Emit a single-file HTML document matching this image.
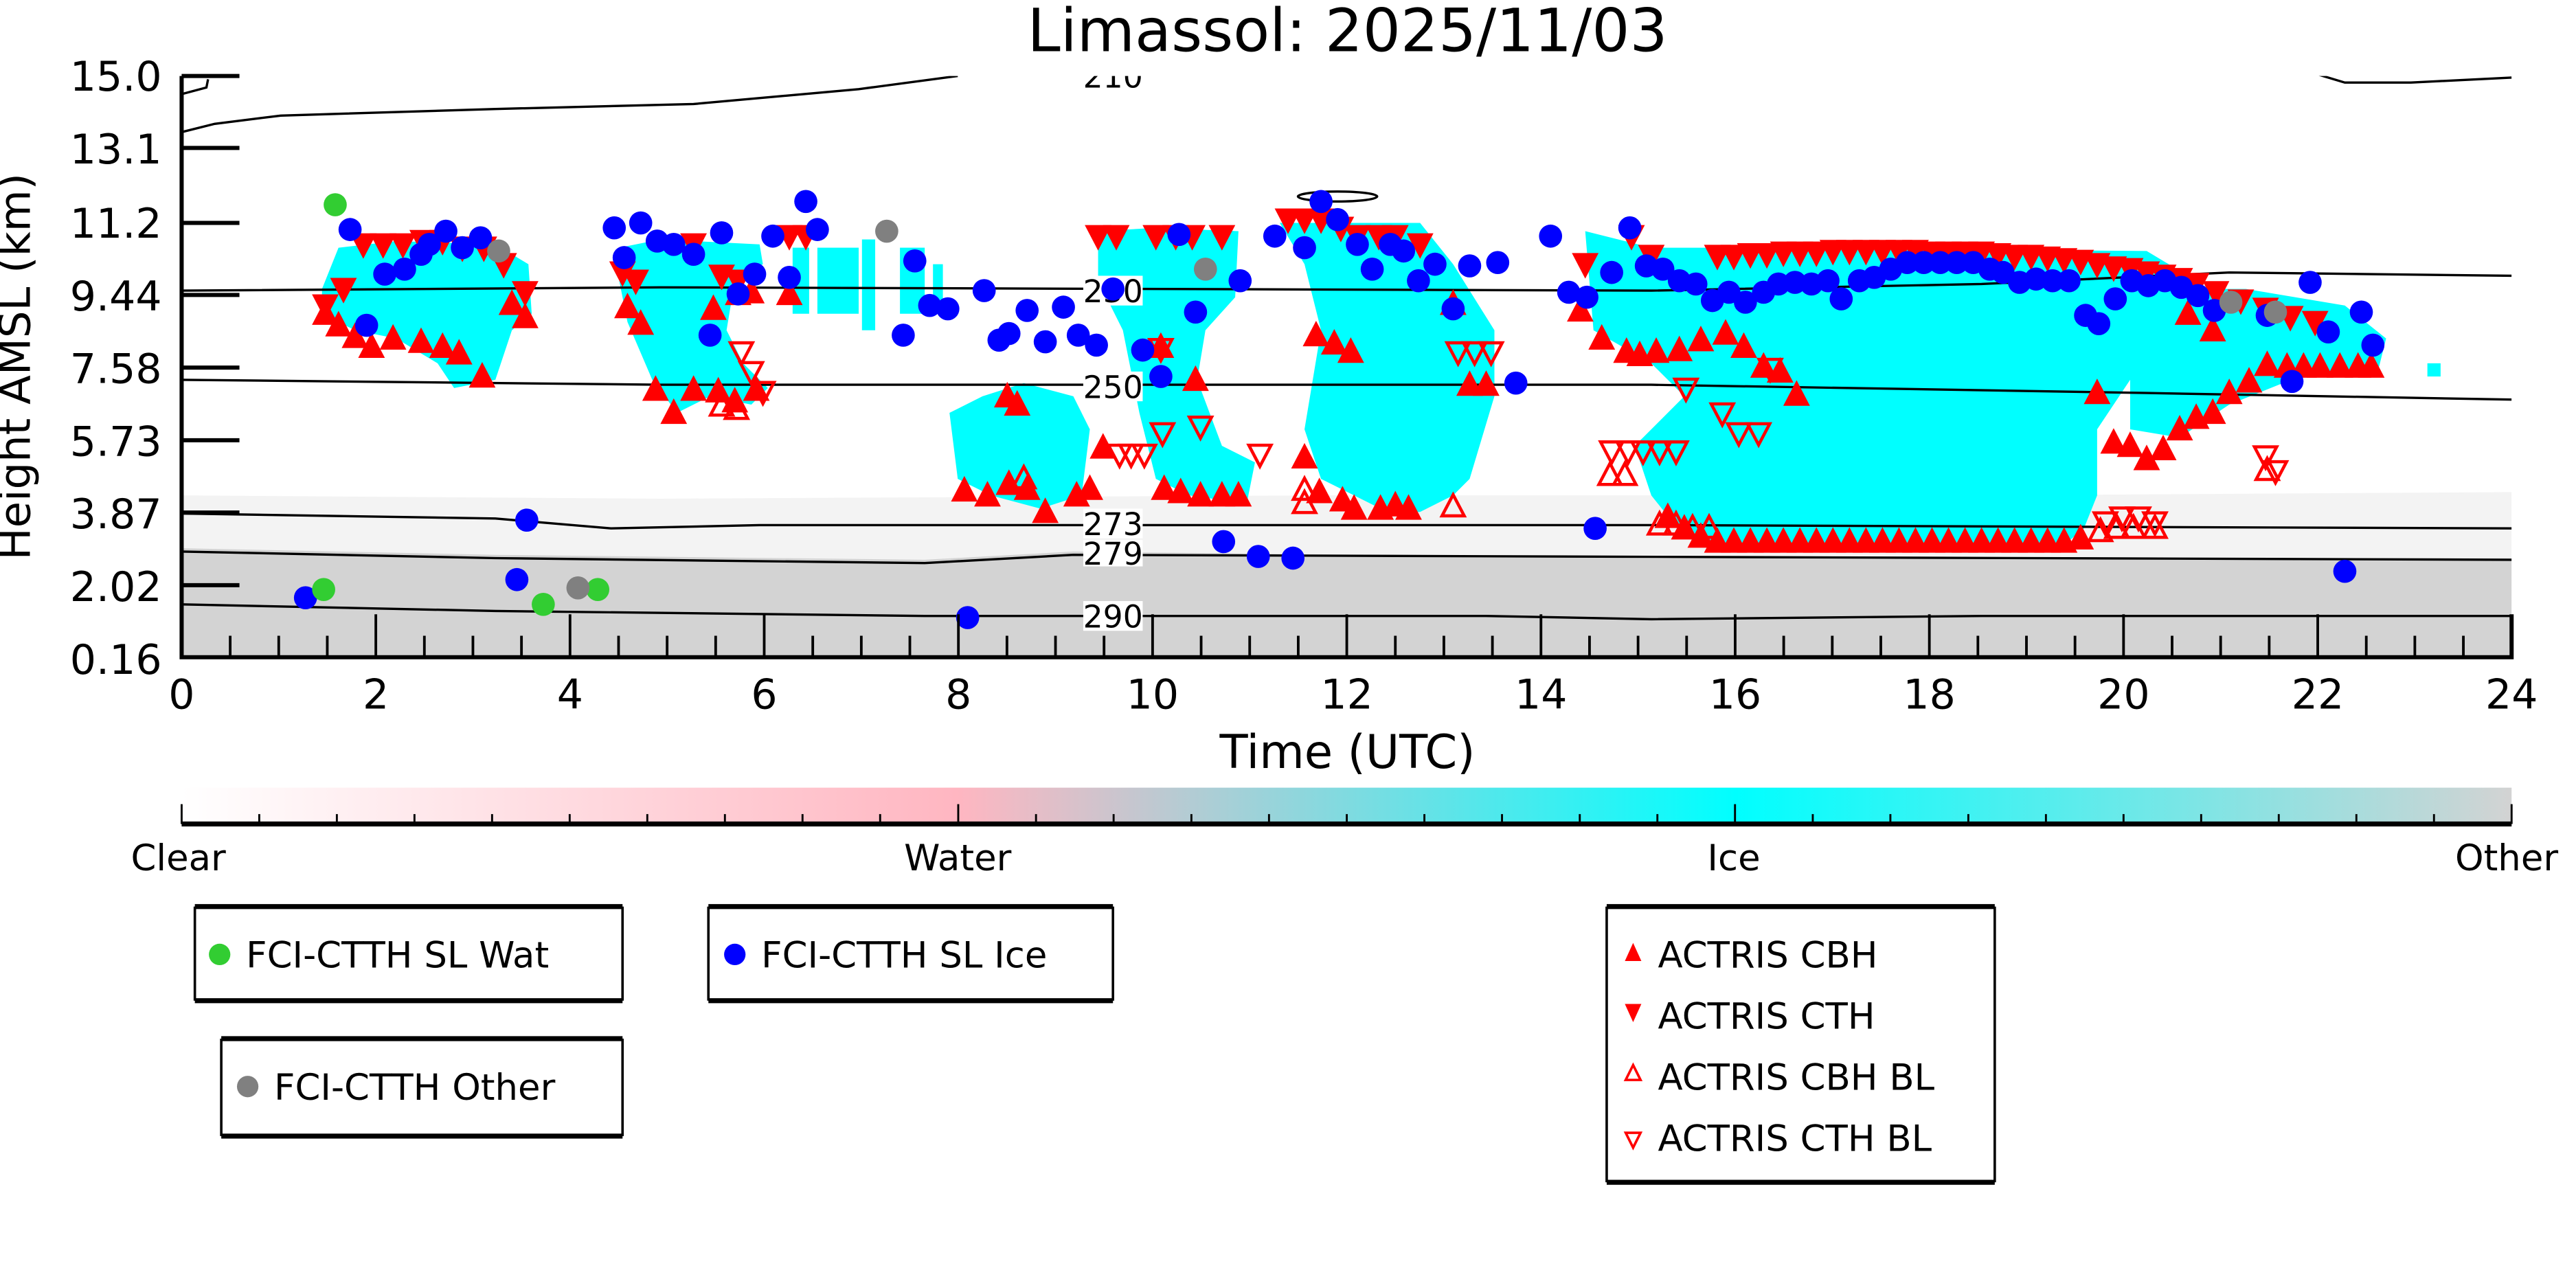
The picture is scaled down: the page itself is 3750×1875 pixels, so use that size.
<!DOCTYPE html>
<html><head><meta charset="utf-8"><style>html,body{margin:0;padding:0;background:#fff}svg{display:block}</style></head><body>
<svg width="3750" height="1875" viewBox="0 0 1560 780" xmlns="http://www.w3.org/2000/svg" font-family="DejaVu Sans, Liberation Sans, sans-serif">
<defs>
<clipPath id="pc"><rect x="110" y="46" width="1411" height="352"/></clipPath>
<linearGradient id="cb" x1="0" x2="1" y1="0" y2="0">
<stop offset="0" stop-color="#ffffff"/><stop offset="0.333" stop-color="#ffb6c1"/><stop offset="0.667" stop-color="#00ffff"/><stop offset="1" stop-color="#d3d3d3"/></linearGradient>
<symbol id="u" viewBox="-5.2 -5.2 10.4 10.4" overflow="visible"><polygon points="0,-6.5 6,5 -6,5" fill="#f00"/></symbol>
<symbol id="d" viewBox="-5.2 -5.2 10.4 10.4" overflow="visible"><polygon points="0,6.5 6,-5 -6,-5" fill="#f00"/></symbol>
<symbol id="uo" viewBox="-5.2 -5.2 10.4 10.4" overflow="visible"><polygon points="0,-5.5 5,4 -5,4" fill="none" stroke="#f00" stroke-width="1.4"/></symbol>
<symbol id="do" viewBox="-5.2 -5.2 10.4 10.4" overflow="visible"><polygon points="0,5.5 5,-4 -5,-4" fill="none" stroke="#f00" stroke-width="1.4"/></symbol>
</defs>
<text x="816" y="31" font-size="36" text-anchor="middle">Limassol: 2025/11/03</text>
<g clip-path="url(#pc)">
<path d="M110,300 L400,302 L800,300 L1200,300 L1521,298 L1521,398 L110,398Z" fill="#f3f3f3"/>
<path d="M110,332 L300,336 L560,339 L650,334 L1000,338 L1521,338 L1521,398 L110,398Z" fill="#d3d3d3"/>
<g fill="#00ffff">
<polygon points="195,175 205,150 240,146 300,148 320,160 322,190 310,200 300,230 275,235 265,220 240,205 215,200 195,190"/>
<polygon points="375,150 400,145 460,148 462,160 445,170 440,200 450,220 465,235 455,245 430,240 410,250 395,230 380,195 375,170"/>
<rect x="495" y="150" width="25" height="40"/><rect x="522" y="145" width="8" height="55"/><rect x="545" y="150" width="15" height="40"/><rect x="565" y="160" width="6" height="30"/><rect x="480" y="150" width="10" height="40"/>
<polygon points="575,250 595,240 620,232 650,240 660,260 655,300 630,308 600,300 580,290"/>
<polygon points="665,140 700,138 750,140 748,180 730,200 725,230 740,270 760,280 755,305 720,300 700,290 690,250 680,200 665,170"/>
<polygon points="775,135 860,135 880,160 905,200 905,240 890,290 880,300 860,310 840,310 820,300 800,290 790,260 800,200 790,160"/>
<polygon points="960,140 1000,150 1060,150 1300,152 1330,170 1300,200 1290,230 1270,260 1270,300 1262,320 1250,330 1050,330 1020,325 1000,300 990,270 1020,240 1000,220 965,200"/>
<polygon points="1300,175 1360,175 1420,185 1445,205 1440,225 1400,225 1350,245 1320,265 1290,260 1290,220"/>
<rect x="1470" y="220" width="8" height="8"/>
</g>
<g fill="none" stroke="#000" stroke-width="1.4">
<path d="M110,80 L130,75 L170,70 L300,66 L420,63 L520,54 L580,46 M700,44 L1400,44 L1420,50 L1460,50 L1521,47"/>
<path d="M110,57 L125,53 L126,48"/>
<path d="M110,176 L400,174 L1000,176 L1200,172 L1350,165 L1521,167"/>
<path d="M110,230 L400,233 L1000,233 L1300,238 L1521,242"/>
<path d="M110,311 L300,314 L370,320 L460,318 L1000,318 L1521,320"/>
<path d="M110,334 L300,338 L560,341 L650,336 L1521,339"/>
<path d="M110,366 L300,370 L560,373 L900,373 L1000,375 L1200,373 L1521,373"/>
<ellipse cx="810" cy="119" rx="24" ry="3"/>
</g>
<g font-size="19" text-anchor="middle">
<rect x="656" y="37" width="36" height="16" fill="#fff"/><text x="674" y="53">210</text>
<rect x="656" y="167" width="36" height="18" fill="#fff"/><text x="674" y="183">230</text>
<rect x="656" y="225" width="36" height="18" fill="#fff"/><text x="674" y="241">250</text>
<rect x="656" y="308" width="36" height="18" fill="#fff"/><text x="674" y="324">273</text>
<rect x="656" y="327" width="36" height="16" fill="#fff"/><text x="674" y="342">279</text>
<rect x="656" y="364" width="36" height="18" fill="#fff"/><text x="674" y="380">290</text>
</g>
<g>
<use href="#d" x="190" y="178" width="14" height="14"/><use href="#d" x="201" y="168" width="14" height="14"/><use href="#d" x="213" y="141" width="14" height="14"/><use href="#d" x="225" y="141" width="14" height="14"/><use href="#d" x="237" y="141" width="14" height="14"/><use href="#d" x="249" y="139" width="14" height="14"/><use href="#d" x="261" y="139" width="14" height="14"/><use href="#d" x="273" y="143" width="14" height="14"/><use href="#d" x="286" y="143" width="14" height="14"/><use href="#d" x="298" y="153" width="14" height="14"/><use href="#d" x="311" y="170" width="14" height="14"/>
<use href="#d" x="370" y="158" width="14" height="14"/><use href="#d" x="378" y="163" width="14" height="14"/><use href="#d" x="413" y="141" width="14" height="14"/><use href="#d" x="430" y="160" width="14" height="14"/><use href="#d" x="440" y="163" width="14" height="14"/><use href="#d" x="471" y="136" width="14" height="14"/><use href="#d" x="481" y="136" width="14" height="14"/>
<use href="#d" x="658" y="136" width="14" height="14"/><use href="#d" x="669" y="136" width="14" height="14"/><use href="#d" x="693" y="136" width="14" height="14"/><use href="#d" x="705" y="136" width="14" height="14"/><use href="#d" x="715" y="136" width="14" height="14"/><use href="#d" x="733" y="136" width="14" height="14"/>
<use href="#d" x="773" y="126" width="14" height="14"/><use href="#d" x="783" y="126" width="14" height="14"/><use href="#d" x="793" y="126" width="14" height="14"/><use href="#d" x="805" y="131" width="14" height="14"/><use href="#d" x="815" y="136" width="14" height="14"/><use href="#d" x="828" y="136" width="14" height="14"/><use href="#d" x="838" y="136" width="14" height="14"/><use href="#d" x="853" y="141" width="14" height="14"/>
<use href="#d" x="953" y="153" width="14" height="14"/><use href="#d" x="981" y="136" width="14" height="14"/><use href="#d" x="993" y="148" width="14" height="14"/>
<use href="#d" x="1033" y="148" width="14" height="14"/><use href="#d" x="1043" y="148" width="14" height="14"/><use href="#d" x="1053" y="147" width="14" height="14"/><use href="#d" x="1063" y="147" width="14" height="14"/><use href="#d" x="1073" y="146" width="14" height="14"/><use href="#d" x="1083" y="146" width="14" height="14"/><use href="#d" x="1093" y="146" width="14" height="14"/><use href="#d" x="1103" y="145" width="14" height="14"/><use href="#d" x="1113" y="145" width="14" height="14"/><use href="#d" x="1123" y="145" width="14" height="14"/><use href="#d" x="1133" y="145" width="14" height="14"/><use href="#d" x="1143" y="145" width="14" height="14"/><use href="#d" x="1153" y="145" width="14" height="14"/><use href="#d" x="1163" y="146" width="14" height="14"/><use href="#d" x="1173" y="146" width="14" height="14"/><use href="#d" x="1183" y="146" width="14" height="14"/><use href="#d" x="1193" y="146" width="14" height="14"/><use href="#d" x="1203" y="147" width="14" height="14"/><use href="#d" x="1213" y="148" width="14" height="14"/><use href="#d" x="1223" y="148" width="14" height="14"/><use href="#d" x="1233" y="149" width="14" height="14"/><use href="#d" x="1243" y="150" width="14" height="14"/><use href="#d" x="1253" y="151" width="14" height="14"/><use href="#d" x="1263" y="153" width="14" height="14"/><use href="#d" x="1273" y="155" width="14" height="14"/><use href="#d" x="1283" y="156" width="14" height="14"/><use href="#d" x="1293" y="158" width="14" height="14"/><use href="#d" x="1303" y="160" width="14" height="14"/><use href="#d" x="1313" y="162" width="14" height="14"/><use href="#d" x="1323" y="165" width="14" height="14"/><use href="#d" x="1335" y="170" width="14" height="14"/><use href="#d" x="1350" y="175" width="14" height="14"/><use href="#d" x="1365" y="180" width="14" height="14"/><use href="#d" x="1380" y="185" width="14" height="14"/><use href="#d" x="1395" y="188" width="14" height="14"/>
<use href="#do" x="442" y="206" width="14" height="14"/><use href="#do" x="448" y="218" width="14" height="14"/><use href="#do" x="455" y="230" width="14" height="14"/><use href="#do" x="696" y="204" width="14" height="14"/><use href="#do" x="671" y="268" width="14" height="14"/><use href="#do" x="678" y="268" width="14" height="14"/><use href="#do" x="686" y="268" width="14" height="14"/><use href="#do" x="697" y="255" width="14" height="14"/><use href="#do" x="720" y="251" width="14" height="14"/><use href="#do" x="756" y="268" width="14" height="14"/><use href="#do" x="876" y="206" width="14" height="14"/><use href="#do" x="886" y="206" width="14" height="14"/><use href="#do" x="896" y="206" width="14" height="14"/><use href="#do" x="1014" y="228" width="14" height="14"/><use href="#do" x="1036" y="243" width="14" height="14"/><use href="#do" x="1046" y="255" width="14" height="14"/><use href="#do" x="1058" y="255" width="14" height="14"/><use href="#do" x="969" y="266" width="14" height="14"/><use href="#do" x="979" y="266" width="14" height="14"/><use href="#do" x="988" y="266" width="14" height="14"/><use href="#do" x="998" y="266" width="14" height="14"/><use href="#do" x="1008" y="266" width="14" height="14"/><use href="#do" x="1065" y="216" width="14" height="14"/><use href="#do" x="1268" y="309" width="14" height="14"/><use href="#do" x="1278" y="306" width="14" height="14"/><use href="#do" x="1288" y="306" width="14" height="14"/><use href="#do" x="1298" y="309" width="14" height="14"/><use href="#do" x="1365" y="269" width="14" height="14"/><use href="#do" x="1371" y="278" width="14" height="14"/>
<use href="#u" x="190" y="183" width="14" height="14"/><use href="#u" x="198" y="190" width="14" height="14"/><use href="#u" x="208" y="197" width="14" height="14"/><use href="#u" x="218" y="203" width="14" height="14"/><use href="#u" x="231" y="198" width="14" height="14"/><use href="#u" x="248" y="200" width="14" height="14"/><use href="#u" x="261" y="203" width="14" height="14"/><use href="#u" x="271" y="207" width="14" height="14"/><use href="#u" x="285" y="221" width="14" height="14"/><use href="#u" x="311" y="185" width="14" height="14"/><use href="#u" x="303" y="177" width="14" height="14"/>
<use href="#u" x="390" y="229" width="14" height="14"/><use href="#u" x="401" y="243" width="14" height="14"/><use href="#u" x="413" y="229" width="14" height="14"/><use href="#u" x="428" y="230" width="14" height="14"/><use href="#u" x="438" y="236" width="14" height="14"/><use href="#u" x="451" y="229" width="14" height="14"/><use href="#u" x="373" y="179" width="14" height="14"/><use href="#u" x="381" y="189" width="14" height="14"/><use href="#u" x="425" y="180" width="14" height="14"/><use href="#u" x="440" y="171" width="14" height="14"/><use href="#u" x="448" y="170" width="14" height="14"/><use href="#u" x="471" y="171" width="14" height="14"/>
<use href="#u" x="577" y="290" width="14" height="14"/><use href="#u" x="591" y="293" width="14" height="14"/><use href="#u" x="604" y="286" width="14" height="14"/><use href="#u" x="615" y="289" width="14" height="14"/><use href="#u" x="626" y="303" width="14" height="14"/><use href="#u" x="609" y="238" width="14" height="14"/><use href="#u" x="603" y="233" width="14" height="14"/><use href="#u" x="661" y="264" width="14" height="14"/><use href="#u" x="645" y="293" width="14" height="14"/><use href="#u" x="653" y="289" width="14" height="14"/><use href="#u" x="698" y="289" width="14" height="14"/><use href="#u" x="708" y="291" width="14" height="14"/><use href="#u" x="720" y="293" width="14" height="14"/><use href="#u" x="733" y="293" width="14" height="14"/><use href="#u" x="743" y="293" width="14" height="14"/><use href="#u" x="696" y="203" width="14" height="14"/><use href="#u" x="717" y="223" width="14" height="14"/>
<use href="#u" x="790" y="196" width="14" height="14"/><use href="#u" x="801" y="201" width="14" height="14"/><use href="#u" x="811" y="206" width="14" height="14"/><use href="#u" x="783" y="270" width="14" height="14"/><use href="#u" x="792" y="291" width="14" height="14"/><use href="#u" x="806" y="296" width="14" height="14"/><use href="#u" x="813" y="301" width="14" height="14"/><use href="#u" x="829" y="301" width="14" height="14"/><use href="#u" x="838" y="299" width="14" height="14"/><use href="#u" x="846" y="301" width="14" height="14"/><use href="#u" x="873" y="177" width="14" height="14"/><use href="#u" x="883" y="226" width="14" height="14"/><use href="#u" x="893" y="226" width="14" height="14"/>
<use href="#u" x="950" y="181" width="14" height="14"/><use href="#u" x="963" y="198" width="14" height="14"/><use href="#u" x="978" y="206" width="14" height="14"/><use href="#u" x="986" y="208" width="14" height="14"/><use href="#u" x="996" y="206" width="14" height="14"/><use href="#u" x="1010" y="205" width="14" height="14"/><use href="#u" x="1023" y="199" width="14" height="14"/><use href="#u" x="1038" y="195" width="14" height="14"/><use href="#u" x="1049" y="203" width="14" height="14"/><use href="#u" x="1061" y="215" width="14" height="14"/><use href="#u" x="1071" y="218" width="14" height="14"/><use href="#u" x="1081" y="232" width="14" height="14"/><use href="#u" x="1003" y="306" width="14" height="14"/><use href="#u" x="1013" y="313" width="14" height="14"/><use href="#u" x="1023" y="318" width="14" height="14"/>
<use href="#u" x="1033" y="321" width="14" height="14"/><use href="#u" x="1043" y="321" width="14" height="14"/><use href="#u" x="1053" y="321" width="14" height="14"/><use href="#u" x="1063" y="321" width="14" height="14"/><use href="#u" x="1073" y="321" width="14" height="14"/><use href="#u" x="1083" y="321" width="14" height="14"/><use href="#u" x="1093" y="321" width="14" height="14"/><use href="#u" x="1103" y="321" width="14" height="14"/><use href="#u" x="1113" y="321" width="14" height="14"/><use href="#u" x="1123" y="321" width="14" height="14"/><use href="#u" x="1133" y="321" width="14" height="14"/><use href="#u" x="1143" y="321" width="14" height="14"/><use href="#u" x="1153" y="321" width="14" height="14"/><use href="#u" x="1163" y="321" width="14" height="14"/><use href="#u" x="1173" y="321" width="14" height="14"/><use href="#u" x="1183" y="321" width="14" height="14"/><use href="#u" x="1193" y="321" width="14" height="14"/><use href="#u" x="1203" y="321" width="14" height="14"/><use href="#u" x="1213" y="321" width="14" height="14"/><use href="#u" x="1223" y="321" width="14" height="14"/><use href="#u" x="1233" y="321" width="14" height="14"/><use href="#u" x="1243" y="321" width="14" height="14"/><use href="#u" x="1253" y="319" width="14" height="14"/>
<use href="#u" x="1263" y="231" width="14" height="14"/><use href="#u" x="1273" y="261" width="14" height="14"/><use href="#u" x="1283" y="263" width="14" height="14"/><use href="#u" x="1293" y="271" width="14" height="14"/><use href="#u" x="1303" y="265" width="14" height="14"/><use href="#u" x="1313" y="253" width="14" height="14"/><use href="#u" x="1323" y="246" width="14" height="14"/><use href="#u" x="1333" y="243" width="14" height="14"/><use href="#u" x="1343" y="231" width="14" height="14"/><use href="#u" x="1355" y="224" width="14" height="14"/><use href="#u" x="1366" y="214" width="14" height="14"/><use href="#u" x="1378" y="215" width="14" height="14"/><use href="#u" x="1388" y="215" width="14" height="14"/><use href="#u" x="1398" y="215" width="14" height="14"/><use href="#u" x="1410" y="215" width="14" height="14"/><use href="#u" x="1421" y="215" width="14" height="14"/><use href="#u" x="1429" y="215" width="14" height="14"/><use href="#u" x="1318" y="183" width="14" height="14"/><use href="#u" x="1333" y="193" width="14" height="14"/>
<use href="#uo" x="430" y="239" width="14" height="14"/><use href="#uo" x="439" y="241" width="14" height="14"/><use href="#uo" x="613" y="283" width="14" height="14"/><use href="#uo" x="968" y="281" width="14" height="14"/><use href="#uo" x="977" y="281" width="14" height="14"/><use href="#uo" x="998" y="311" width="14" height="14"/><use href="#uo" x="1008" y="311" width="14" height="14"/><use href="#uo" x="1018" y="313" width="14" height="14"/><use href="#uo" x="1028" y="313" width="14" height="14"/><use href="#uo" x="1265" y="315" width="14" height="14"/><use href="#uo" x="1275" y="313" width="14" height="14"/><use href="#uo" x="1285" y="313" width="14" height="14"/><use href="#uo" x="1298" y="313" width="14" height="14"/><use href="#uo" x="1366" y="278" width="14" height="14"/><use href="#uo" x="783" y="290" width="14" height="14"/><use href="#uo" x="873" y="300" width="14" height="14"/><use href="#uo" x="783" y="298" width="14" height="14"/>
</g>
<g fill="#0000ff">
<circle cx="212" cy="139" r="7"/><circle cx="185" cy="362" r="7"/><circle cx="233" cy="166" r="7"/><circle cx="245" cy="163" r="7"/><circle cx="222" cy="197" r="7"/><circle cx="260" cy="148" r="7"/><circle cx="270" cy="140" r="7"/><circle cx="255" cy="154" r="7"/><circle cx="280" cy="150" r="7"/><circle cx="291" cy="144" r="7"/><circle cx="319" cy="315" r="7"/><circle cx="313" cy="351" r="7"/>
<circle cx="372" cy="138" r="7"/><circle cx="388" cy="135" r="7"/><circle cx="378" cy="156" r="7"/><circle cx="398" cy="146" r="7"/><circle cx="408" cy="148" r="7"/><circle cx="420" cy="154" r="7"/><circle cx="430" cy="203" r="7"/><circle cx="437" cy="141" r="7"/><circle cx="447" cy="178" r="7"/><circle cx="457" cy="166" r="7"/><circle cx="468" cy="143" r="7"/><circle cx="478" cy="168" r="7"/><circle cx="488" cy="122" r="7"/><circle cx="495" cy="139" r="7"/>
<circle cx="554" cy="158" r="7"/><circle cx="547" cy="203" r="7"/><circle cx="563" cy="185" r="7"/><circle cx="574" cy="187" r="7"/><circle cx="586" cy="374" r="7"/><circle cx="596" cy="176" r="7"/><circle cx="605" cy="206" r="7"/><circle cx="611" cy="202" r="7"/><circle cx="622" cy="188" r="7"/><circle cx="633" cy="207" r="7"/><circle cx="644" cy="186" r="7"/><circle cx="653" cy="203" r="7"/><circle cx="664" cy="209" r="7"/><circle cx="674" cy="175" r="7"/><circle cx="692" cy="212" r="7"/><circle cx="703" cy="228" r="7"/><circle cx="714" cy="142" r="7"/><circle cx="724" cy="189" r="7"/><circle cx="741" cy="328" r="7"/><circle cx="751" cy="170" r="7"/><circle cx="762" cy="337" r="7"/><circle cx="783" cy="338" r="7"/><circle cx="772" cy="143" r="7"/><circle cx="790" cy="150" r="7"/><circle cx="800" cy="122" r="7"/><circle cx="810" cy="133" r="7"/><circle cx="822" cy="148" r="7"/><circle cx="831" cy="163" r="7"/><circle cx="842" cy="148" r="7"/><circle cx="850" cy="152" r="7"/><circle cx="859" cy="170" r="7"/><circle cx="869" cy="160" r="7"/><circle cx="880" cy="187" r="7"/><circle cx="890" cy="161" r="7"/><circle cx="907" cy="159" r="7"/><circle cx="918" cy="232" r="7"/><circle cx="939" cy="143" r="7"/><circle cx="950" cy="177" r="7"/><circle cx="961" cy="180" r="7"/><circle cx="966" cy="320" r="7"/><circle cx="976" cy="165" r="7"/><circle cx="987" cy="138" r="7"/><circle cx="997" cy="161" r="7"/><circle cx="1007" cy="163" r="7"/><circle cx="1017" cy="170" r="7"/><circle cx="1027" cy="172" r="7"/><circle cx="1037" cy="182" r="7"/><circle cx="1047" cy="177" r="7"/><circle cx="1057" cy="183" r="7"/><circle cx="1068" cy="177" r="7"/><circle cx="1077" cy="172" r="7"/><circle cx="1087" cy="171" r="7"/><circle cx="1097" cy="172" r="7"/><circle cx="1107" cy="170" r="7"/><circle cx="1115" cy="181" r="7"/><circle cx="1126" cy="170" r="7"/><circle cx="1135" cy="168" r="7"/><circle cx="1145" cy="163" r="7"/><circle cx="1155" cy="159" r="7"/><circle cx="1165" cy="159" r="7"/><circle cx="1175" cy="159" r="7"/><circle cx="1185" cy="159" r="7"/><circle cx="1195" cy="159" r="7"/><circle cx="1205" cy="163" r="7"/><circle cx="1213" cy="165" r="7"/><circle cx="1223" cy="171" r="7"/><circle cx="1233" cy="169" r="7"/><circle cx="1243" cy="170" r="7"/><circle cx="1253" cy="170" r="7"/><circle cx="1263" cy="191" r="7"/><circle cx="1271" cy="196" r="7"/><circle cx="1281" cy="181" r="7"/><circle cx="1291" cy="170" r="7"/><circle cx="1301" cy="173" r="7"/><circle cx="1311" cy="170" r="7"/><circle cx="1321" cy="174" r="7"/><circle cx="1331" cy="179" r="7"/><circle cx="1341" cy="188" r="7"/><circle cx="1373" cy="191" r="7"/><circle cx="1388" cy="231" r="7"/><circle cx="1399" cy="171" r="7"/><circle cx="1410" cy="201" r="7"/><circle cx="1420" cy="346" r="7"/><circle cx="1430" cy="189" r="7"/><circle cx="1437" cy="209" r="7"/>
</g>
<g fill="#32cd32"><circle cx="203" cy="124" r="7"/><circle cx="196" cy="357" r="7"/><circle cx="329" cy="366" r="7"/><circle cx="362" cy="357" r="7"/></g>
<g fill="#808080"><circle cx="302" cy="152" r="7"/><circle cx="350" cy="356" r="7"/><circle cx="537" cy="140" r="7"/><circle cx="730" cy="163" r="7"/><circle cx="1351" cy="183" r="7"/><circle cx="1378" cy="189" r="7"/></g>
</g>
<g stroke="#000" fill="none">
<path d="M110,46 L110,398 L1521,398 L1521,372" stroke-width="2.5"/>
<path d="M110,46 H145 M110,89.6 H145 M110,135 H145 M110,178.6 H145 M110,222.6 H145 M110,266.6 H145 M110,310.4 H145 M110,354.4 H145" stroke-width="2.5"/>
<path d="M227.6,398 V372 M345.2,398 V372 M462.8,398 V372 M580.4,398 V372 M698,398 V372 M815.6,398 V372 M933.2,398 V372 M1050.8,398 V372 M1168.4,398 V372 M1286,398 V372 M1403.6,398 V372" stroke-width="1.6"/>
<path d="M139.4,398 V385 M168.8,398 V385 M198.2,398 V385 M257,398 V385 M286.4,398 V385 M315.8,398 V385 M374.6,398 V385 M404,398 V385 M433.4,398 V385 M492.2,398 V385 M521.6,398 V385 M551,398 V385 M609.8,398 V385 M639.2,398 V385 M668.6,398 V385 M727.4,398 V385 M756.8,398 V385 M786.2,398 V385 M845,398 V385 M874.4,398 V385 M903.8,398 V385 M962.6,398 V385 M992,398 V385 M1021.4,398 V385 M1080.2,398 V385 M1109.6,398 V385 M1139,398 V385 M1197.8,398 V385 M1227.2,398 V385 M1256.6,398 V385 M1315.4,398 V385 M1344.8,398 V385 M1374.2,398 V385 M1433,398 V385 M1462.4,398 V385 M1491.8,398 V385" stroke-width="1.6"/>
</g>
<g font-size="25" text-anchor="end">
<text x="98" y="55">15.0</text><text x="98" y="99">13.1</text><text x="98" y="144">11.2</text><text x="98" y="188">9.44</text><text x="98" y="232">7.58</text><text x="98" y="276">5.73</text><text x="98" y="320">3.87</text><text x="98" y="364">2.02</text><text x="98" y="408">0.16</text>
</g>
<text transform="translate(18,222) rotate(-90)" font-size="26" text-anchor="middle">Height AMSL (km)</text>
<g font-size="25" text-anchor="middle">
<text x="110" y="429">0</text><text x="227.6" y="429">2</text><text x="345.2" y="429">4</text><text x="462.8" y="429">6</text><text x="580.4" y="429">8</text><text x="698" y="429">10</text><text x="815.6" y="429">12</text><text x="933.2" y="429">14</text><text x="1050.8" y="429">16</text><text x="1168.4" y="429">18</text><text x="1286" y="429">20</text><text x="1403.6" y="429">22</text><text x="1521" y="429">24</text>
</g>
<text x="816" y="465" font-size="28" text-anchor="middle">Time (UTC)</text>
<rect x="110" y="477" width="1411" height="21" fill="url(#cb)"/>
<path d="M110,499 H1521" stroke="#000" stroke-width="3"/>
<g stroke="#000" stroke-width="1.2">
<path d="M110,499 V487 M580.3,499 V487 M1050.7,499 V487 M1521,499 V487"/>
<path d="M157,499 V493 M204,499 V493 M251,499 V493 M298,499 V493 M345,499 V493 M392,499 V493 M439,499 V493 M486,499 V493 M533,499 V493 M627.4,499 V493 M674.4,499 V493 M721.5,499 V493 M768.5,499 V493 M815.6,499 V493 M862.6,499 V493 M909.6,499 V493 M956.7,499 V493 M1003.7,499 V493 M1097.8,499 V493 M1144.8,499 V493 M1192,499 V493 M1239,499 V493 M1286,499 V493 M1333,499 V493 M1380,499 V493 M1427,499 V493 M1474,499 V493"/>
</g>
<g font-size="22" text-anchor="middle">
<text x="108" y="527">Clear</text><text x="580" y="527">Water</text><text x="1050" y="527">Ice</text><text x="1518" y="527">Other</text>
</g>
<g fill="none" stroke="#000">
<path d="M118,549 H377 M118,606 H377 M429,549 H674 M429,606 H674 M134,629 H377 M134,688 H377 M973,549 H1208 M973,716 H1208" stroke-width="3"/>
<path d="M118,549 V606 M377,549 V606 M429,549 V606 M674,549 V606 M134,629 V688 M377,629 V688 M973,549 V716 M1208,549 V716" stroke-width="1.5"/>
</g>
<circle cx="133" cy="578" r="6.5" fill="#32cd32"/>
<circle cx="445" cy="578" r="6.5" fill="#0000ff"/>
<circle cx="150" cy="658" r="6.5" fill="#808080"/>
<polygon points="989,571 994,582 984,582" fill="#f00"/>
<polygon points="989,619 994,608 984,608" fill="#f00"/>
<polygon points="989,645 993.5,654 984.5,654" fill="none" stroke="#f00" stroke-width="1.5"/>
<polygon points="989,695 993.5,686 984.5,686" fill="none" stroke="#f00" stroke-width="1.5"/>
<g font-size="22">
<text x="149" y="586">FCI-CTTH SL Wat</text>
<text x="461" y="586">FCI-CTTH SL Ice</text>
<text x="166" y="666">FCI-CTTH Other</text>
<text x="1004" y="586">ACTRIS CBH</text>
<text x="1004" y="623">ACTRIS CTH</text>
<text x="1004" y="660">ACTRIS CBH BL</text>
<text x="1004" y="697">ACTRIS CTH BL</text>
</g>
</svg>
</body></html>
